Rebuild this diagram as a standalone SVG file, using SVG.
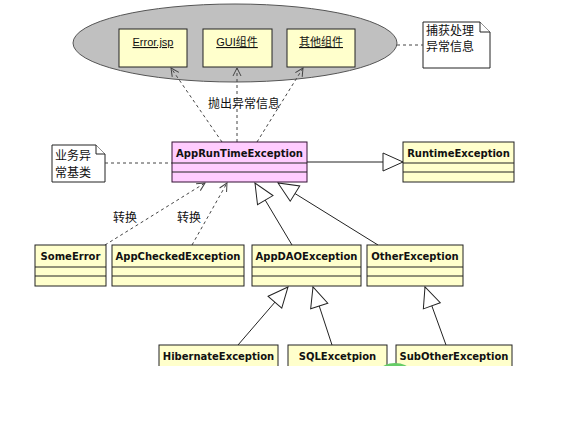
<svg xmlns="http://www.w3.org/2000/svg" width="582" height="427" viewBox="0 0 582 427">
<style>
.cls{fill:#FFFFCC;stroke:#222;stroke-width:1}
.pink{fill:#FFCCFF;stroke:#331133;stroke-width:1}
.div{stroke:#222;stroke-width:1}
.nm{font-family:"DejaVu Sans",sans-serif;font-weight:bold;font-size:10px;fill:#111;text-anchor:middle}
.cj{font-family:"Liberation Sans","Noto Sans CJK SC",sans-serif;font-size:12px;fill:#111}
.obj{font-family:"Liberation Sans","Noto Sans CJK SC",sans-serif;font-size:11px;fill:#111;text-anchor:middle;text-decoration:underline}
.note{fill:#fff;stroke:#222;stroke-width:1}
.dash{fill:none;stroke:#444;stroke-width:1;stroke-dasharray:3,3}
.gen{fill:none;stroke:#222;stroke-width:1}
</style>
<defs>
<marker id="tri" markerUnits="userSpaceOnUse" markerWidth="24" markerHeight="22" refX="21" refY="10" orient="auto">
<path d="M1,1 L21,10 L1,19 Z" fill="#fff" stroke="#222" stroke-width="1"/>
</marker>
<marker id="open" markerUnits="userSpaceOnUse" markerWidth="12" markerHeight="12" refX="9" refY="5" orient="auto">
<path d="M1,1 L9,5 L1,9" fill="none" stroke="#444" stroke-width="1"/>
</marker>
</defs>
<rect x="0" y="0" width="582" height="427" fill="#fff"/>

<g id="ui-layer">
<ellipse cx="235" cy="43" rx="162" ry="39" fill="#C0C0C0" stroke="#555" stroke-width="1"/>
<g id="error-jsp"><rect class="cls" x="119" y="29" width="68" height="38"/><text class="obj" x="153" y="46">Error.jsp</text></g>
<g id="gui"><rect class="cls" x="203" y="29" width="69" height="38"/><text class="obj" x="237" y="46">GUI组件</text></g>
<g id="other-comp"><rect class="cls" x="287" y="29" width="68" height="38"/><text class="obj" x="321" y="46">其他组件</text></g>
</g>

<g id="note-catch">
<path class="note" d="M423,22 L480,22 L490,32 L490,68 L423,68 Z"/>
<path class="note" d="M480,22 L480,32 L490,32"/>
<text class="cj" x="426" y="35">捕获处理</text>
<text class="cj" x="426" y="51">异常信息</text>
</g>

<g id="note-base">
<path class="note" d="M52,145 L96,145 L105,154 L105,182 L52,182 Z"/>
<path class="note" d="M96,145 L96,154 L105,154"/>
<text class="cj" x="55" y="160">业务异</text>
<text class="cj" x="55" y="177">常基类</text>
</g>

<g id="connectors">
<line class="dash" x1="397" y1="45" x2="423" y2="45"/>
<line class="dash" x1="105" y1="163" x2="172" y2="163"/>
<line class="dash" x1="222" y1="142" x2="171" y2="68" marker-end="url(#open)"/>
<line class="dash" x1="237" y1="142" x2="237" y2="68" marker-end="url(#open)"/>
<line class="dash" x1="257" y1="142" x2="303" y2="68" marker-end="url(#open)"/>
<line class="dash" x1="105" y1="245" x2="205" y2="183" marker-end="url(#open)"/>
<line class="dash" x1="192" y1="245" x2="227" y2="183" marker-end="url(#open)"/>
<line class="gen" x1="307" y1="162" x2="403" y2="162" marker-end="url(#tri)"/>
<line class="gen" x1="292" y1="245" x2="255" y2="183" marker-end="url(#tri)"/>
<line class="gen" x1="378" y1="245" x2="278" y2="183" marker-end="url(#tri)"/>
<line class="gen" x1="238" y1="345" x2="288" y2="287" marker-end="url(#tri)"/>
<line class="gen" x1="332" y1="345" x2="313" y2="287" marker-end="url(#tri)"/>
<line class="gen" x1="446" y1="345" x2="425" y2="287" marker-end="url(#tri)"/>
<text class="cj" x="208" y="108">抛出异常信息</text>
<text class="cj" x="113" y="222">转换</text>
<text class="cj" x="177" y="222">转换</text>
</g>

<g id="AppRunTimeException">
<rect class="pink" x="172" y="142" width="135" height="40"/>
<line class="div" x1="172" y1="163" x2="307" y2="163"/><line class="div" x1="172" y1="172" x2="307" y2="172"/>
<text class="nm" x="239.5" y="157">AppRunTimeException</text>
</g>
<g id="RuntimeException">
<rect class="cls" x="403" y="142" width="111" height="40"/>
<line class="div" x1="403" y1="163" x2="514" y2="163"/><line class="div" x1="403" y1="172" x2="514" y2="172"/>
<text class="nm" x="458.5" y="157">RuntimeException</text>
</g>
<g id="SomeError">
<rect class="cls" x="35" y="245" width="71" height="41"/>
<line class="div" x1="35" y1="267" x2="106" y2="267"/><line class="div" x1="35" y1="276" x2="106" y2="276"/>
<text class="nm" x="70.5" y="260">SomeError</text>
</g>
<g id="AppCheckedException">
<rect class="cls" x="112" y="245" width="132" height="41"/>
<line class="div" x1="112" y1="267" x2="244" y2="267"/><line class="div" x1="112" y1="276" x2="244" y2="276"/>
<text class="nm" x="178" y="260">AppCheckedException</text>
</g>
<g id="AppDAOException">
<rect class="cls" x="252" y="245" width="109" height="41"/>
<line class="div" x1="252" y1="267" x2="361" y2="267"/><line class="div" x1="252" y1="276" x2="361" y2="276"/>
<text class="nm" x="306.5" y="260">AppDAOException</text>
</g>
<g id="OtherException">
<rect class="cls" x="367" y="245" width="96" height="41"/>
<line class="div" x1="367" y1="267" x2="463" y2="267"/><line class="div" x1="367" y1="276" x2="463" y2="276"/>
<text class="nm" x="415" y="260">OtherException</text>
</g>
<g id="HibernateException">
<rect class="cls" x="159" y="345" width="119" height="30"/>
<text class="nm" x="218.5" y="360">HibernateException</text>
</g>
<g id="SQLExcetpion">
<rect class="cls" x="288" y="345" width="99" height="30"/>
<text class="nm" x="337.5" y="360">SQLExcetpion</text>
</g>
<g id="SubOtherException">
<rect class="cls" x="396" y="345" width="116" height="30"/>
<text class="nm" x="454" y="360">SubOtherException</text>
</g>
<ellipse cx="395" cy="370" rx="14" ry="7" fill="#66CC66"/>
<rect x="0" y="366" width="582" height="61" fill="#fff"/>
</svg>
